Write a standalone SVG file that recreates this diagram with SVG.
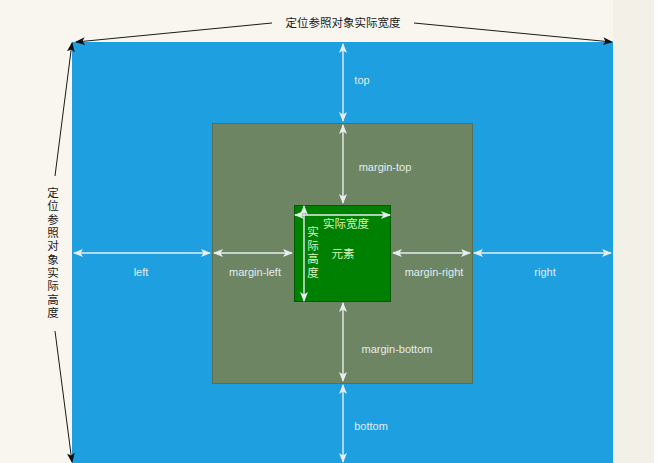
<svg xmlns="http://www.w3.org/2000/svg" width="672" height="463" viewBox="0 0 672 463">
<defs>
<style>
.lbl{font-family:"Liberation Sans",Arial,sans-serif;font-size:11px;fill:#e3ecf0;text-anchor:middle;dominant-baseline:central}
.cn{font-family:"Noto Sans CJK SC","Liberation Sans",sans-serif;font-size:11.5px;fill:#1a1a1a;text-anchor:middle;dominant-baseline:central}
.in{font-family:"Noto Sans CJK SC","Liberation Sans",sans-serif;font-size:11.5px;fill:#d9f5c0;text-anchor:middle;dominant-baseline:central}
.vt{font-family:"Noto Sans CJK SC","Liberation Sans",sans-serif;font-size:11.5px;writing-mode:vertical-rl;text-anchor:start}
.wa{stroke:#e6eef0;stroke-width:1.4;fill:none;marker-start:url(#wh);marker-end:url(#wh)}
.ba{stroke:#1a1a1a;stroke-width:1;fill:none;marker-end:url(#bh)}
</style>
<marker id="wh" viewBox="0 0 10 8" refX="9" refY="4" markerWidth="10" markerHeight="8" markerUnits="userSpaceOnUse" orient="auto-start-reverse">
<path d="M0,0 L10,4 L0,8 L2.5,4 z" fill="#e6eef0"/>
</marker>
<marker id="bh" viewBox="0 0 10 8" refX="9" refY="4" markerWidth="10" markerHeight="8" markerUnits="userSpaceOnUse" orient="auto">
<path d="M0,0 L10,4 L0,8 L2.5,4 z" fill="#111"/>
</marker>
</defs>
<rect x="0" y="0" width="672" height="463" fill="#f8f6ee"/>
<rect x="613" y="0" width="41" height="463" fill="#f3f0e7"/>
<rect x="654" y="0" width="18" height="463" fill="#ffffff"/>

<g id="container">
<rect x="72" y="42" width="541" height="425" fill="#1d9fe0"/>
</g>
<g id="margin-box">
<rect x="212.5" y="123.5" width="260" height="260" fill="#6e8564" stroke="#5a6e52" stroke-width="1"/>
</g>
<g id="element">
<rect x="294.5" y="205.5" width="96" height="96" fill="#008000" stroke="#005c00" stroke-width="1"/>
<text class="in" x="343" y="253">元素</text>
<text class="in" x="346" y="223">实际宽度</text>
<text class="vt" x="313" y="226" fill="#d9f5c0" letter-spacing="2.1">实际高度</text>
</g>

<g id="connectors">
<line class="wa" x1="343" y1="44" x2="343" y2="121"/>
<line class="wa" x1="343" y1="125" x2="343" y2="203"/>
<line class="wa" x1="343" y1="303" x2="343" y2="381"/>
<line class="wa" x1="343" y1="385" x2="343" y2="462"/>
<line class="wa" x1="74" y1="253" x2="210" y2="253"/>
<line class="wa" x1="214" y1="253" x2="292" y2="253"/>
<line class="wa" x1="393" y1="253" x2="470" y2="253"/>
<line class="wa" x1="474" y1="253" x2="611" y2="253"/>
<line class="wa" x1="295" y1="215" x2="390" y2="215"/>
<line class="wa" x1="304" y1="206" x2="304" y2="301"/>
<line class="ba" x1="272" y1="23" x2="76" y2="42"/>
<line class="ba" x1="414" y1="23" x2="612" y2="42"/>
<line class="ba" x1="55" y1="176" x2="72" y2="43"/>
<line class="ba" x1="55" y1="331" x2="72" y2="462"/>
</g>

<g id="labels">
<text class="lbl" x="362" y="80">top</text>
<text class="lbl" x="385" y="167">margin-top</text>
<text class="lbl" x="397" y="349">margin-bottom</text>
<text class="lbl" x="371" y="426">bottom</text>
<text class="lbl" x="141" y="272">left</text>
<text class="lbl" x="255" y="272">margin-left</text>
<text class="lbl" x="434" y="272">margin-right</text>
<text class="lbl" x="545" y="272">right</text>
<text class="cn" x="343" y="22">定位参照对象实际宽度</text>
<text class="vt" x="53" y="187" fill="#1a1a1a" letter-spacing="1.8">定位参照对象实际高度</text>
</g>
</svg>
